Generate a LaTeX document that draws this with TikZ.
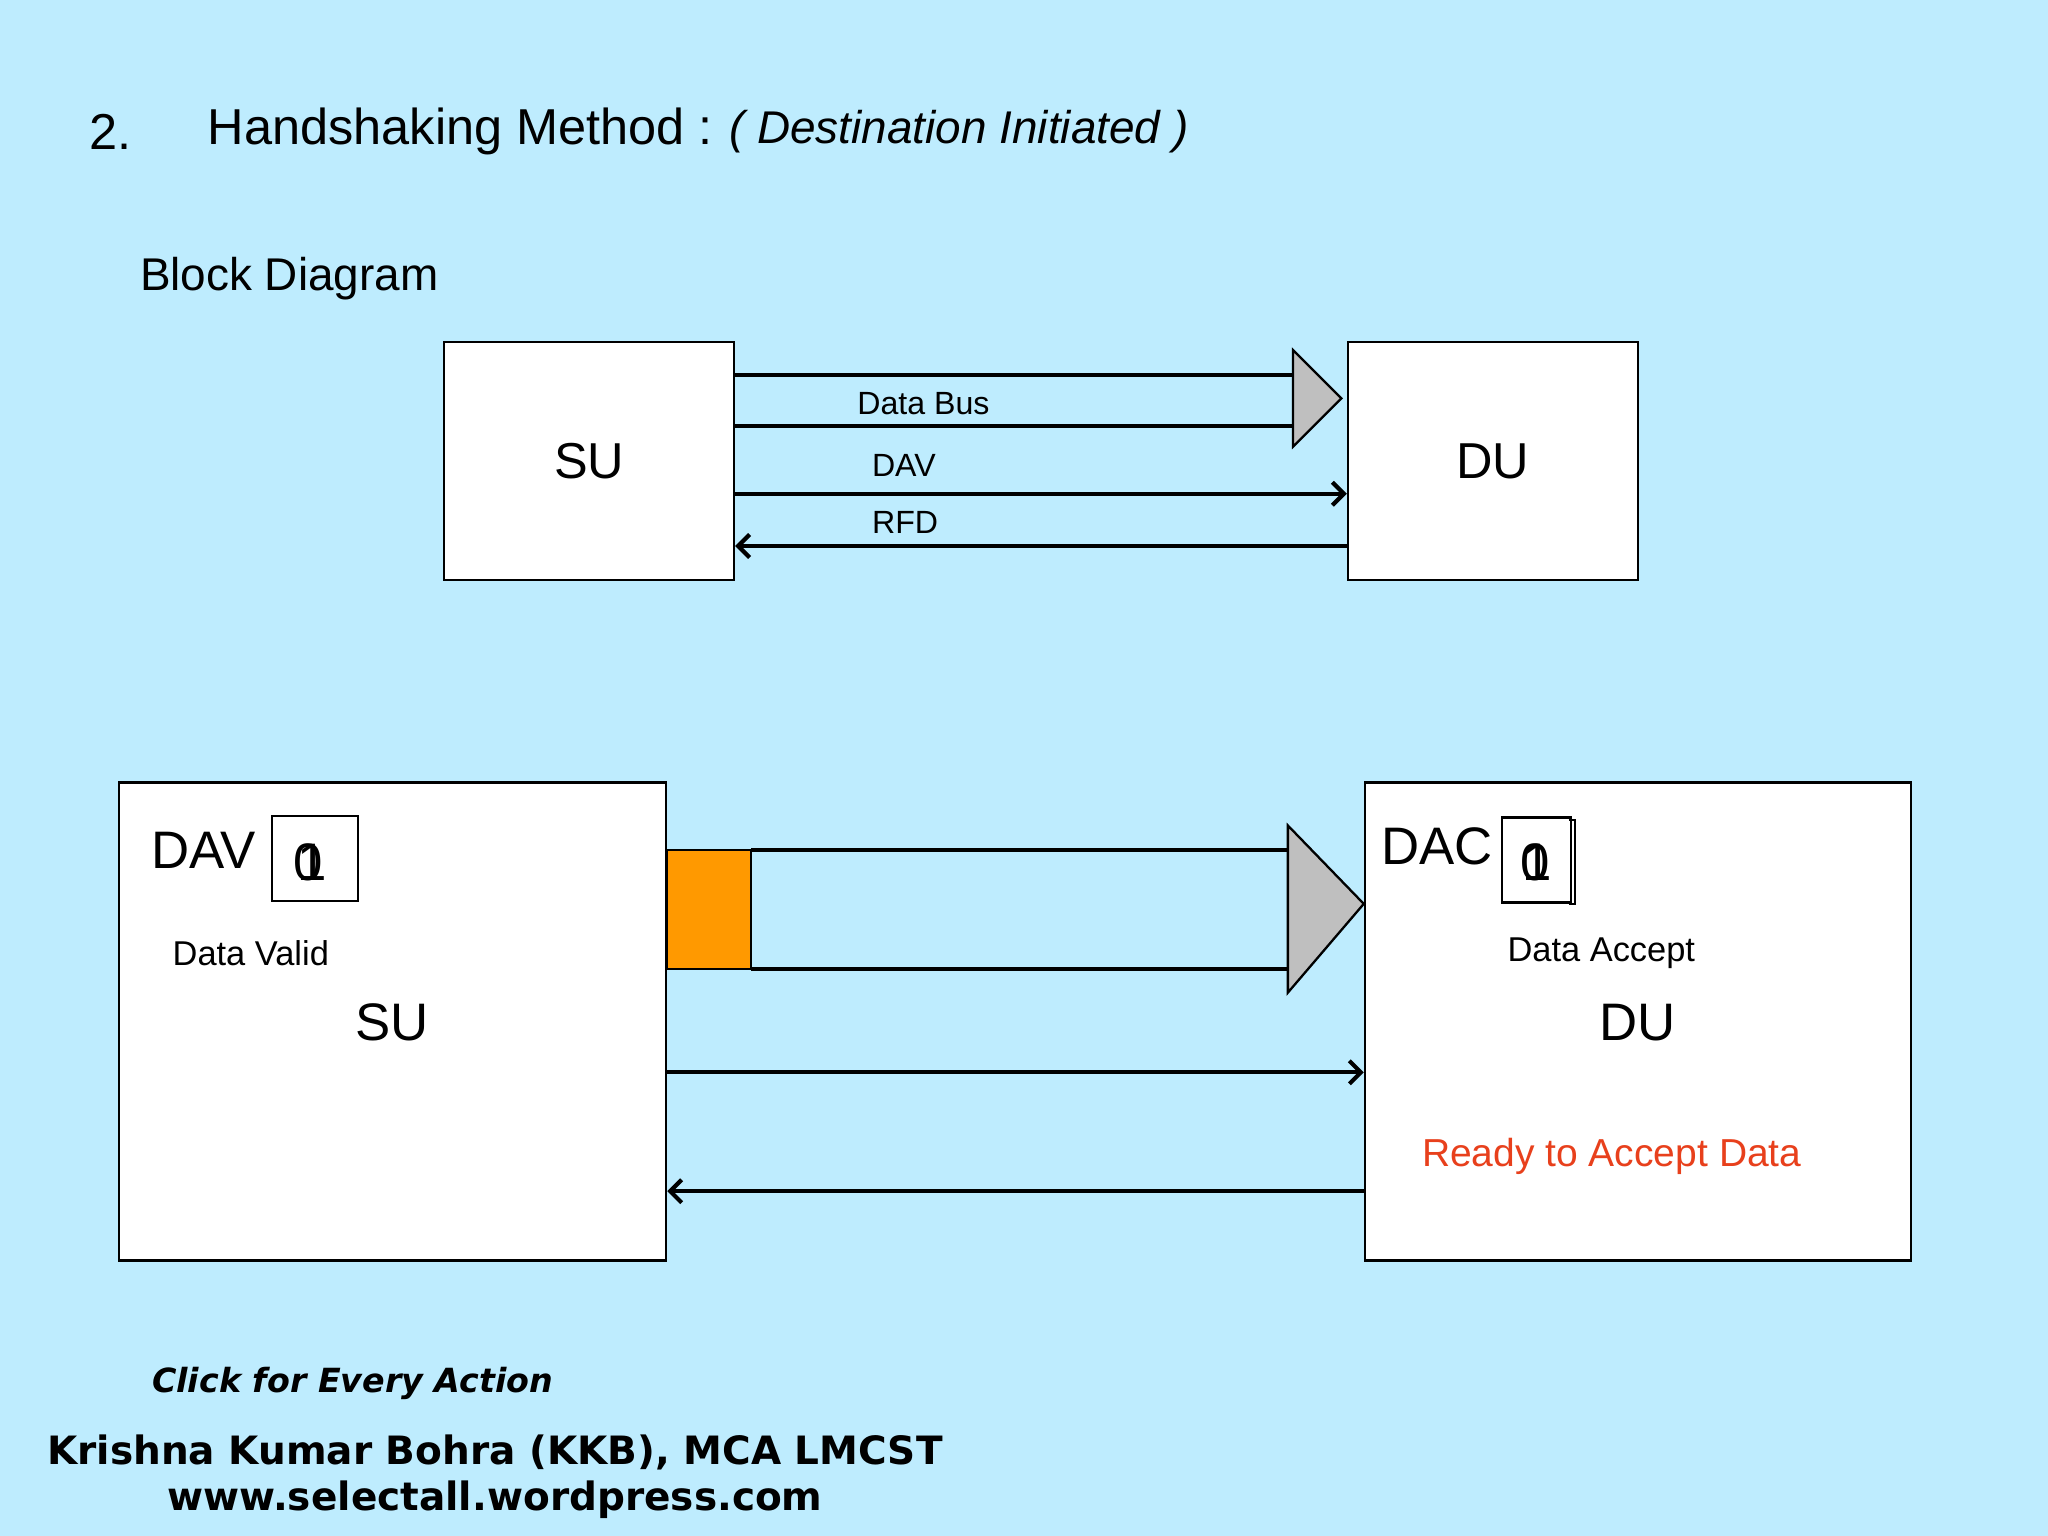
\documentclass[tikz,border=0pt]{standalone}
\usepackage{fontspec}
\setmainfont{Liberation Sans}
\newfontfamily\footfont{DejaVu Sans}
\usepackage{xcolor}
\usetikzlibrary{shapes,arrows,arrows.meta,positioning,calc}
\definecolor{bgblue}{RGB}{190,236,254}
\definecolor{busorange}{RGB}{255,153,0}
\definecolor{readyred}{RGB}{232,64,28}
\begin{document}
\begin{tikzpicture}[x=0.02cm,y=-0.02cm,
  unit/.style={draw,fill=white,line width=1pt,inner sep=0pt},
  sig/.style={line width=1.8pt,-{Straight Barb[length=5pt,width=10pt,line width=1.8pt]}},
  bus/.style={line width=1.8pt},
  tri/.style={draw,fill=gray!50,line width=1pt}]
\fill[bgblue] (0,0) rectangle (1568,1176);
\useasboundingbox (0,0) rectangle (1568,1176);
% heading
\node[anchor=west,font=\fontsize{22}{26}\selectfont] (num) at (62,101) {2.};
\node[anchor=west,font=\fontsize{22}{26}\selectfont] (title) at (153,101) {Handshaking Method :};
\node[anchor=west,font=\fontsize{20}{24}\selectfont\itshape] (sub) at (title.east) {( Destination Initiated )};
\node[anchor=west,font=\fontsize{20}{24}\selectfont] (bd) at (101,213) {Block Diagram};

% block diagram
\node[unit,minimum width=222*0.02cm,minimum height=182*0.02cm,font=\fontsize{22}{26}\selectfont] (su) at (451,353) {SU};
\node[unit,minimum width=222*0.02cm,minimum height=182*0.02cm,font=\fontsize{22}{26}\selectfont] (du) at (1143,353) {DU};
\coordinate (tip) at (1027,305);
\draw[bus] (su.east |- 0,287) -- (990,287);
\draw[bus] (su.east |- 0,326) -- (990,326);
\draw[tri] (990,268) -- (tip) -- (990,342) -- cycle;
\draw[sig] (su.east |- 0,378) -- (du.west |- 0,378);
\draw[sig] (du.west |- 0,418) -- (su.east |- 0,418);
\node[font=\fontsize{14}{16}\selectfont] (bus) at (707,309) {Data Bus};
\node[font=\fontsize{14}{16}\selectfont] (dav) at (692,356) {DAV};
\node[font=\fontsize{14}{16}\selectfont] (rfd) at (693,400) {RFD};

% detailed view
\node[unit,minimum width=419*0.02cm,minimum height=366*0.02cm] (su2) at (300.5,782) {};
\node[unit,minimum width=418*0.02cm,minimum height=366*0.02cm] (du2) at (1254,782) {};
\fill[busorange,draw=black,line width=1pt] (su2.east |- 0,651) rectangle (575,742);
\draw[bus] (575,651) -- (986,651);
\draw[bus] (575,742) -- (986,742);
\draw[tri] (986,632) -- (du2.west |- 0,692) -- (986,760) -- cycle;
\draw[sig] (su2.east |- 0,821) -- (du2.west |- 0,821);
\draw[sig] (du2.west |- 0,912) -- (su2.east |- 0,912);

\node[font=\fontsize{23}{26}\selectfont] (davlbl) at (156,651) {DAV};
\node[draw,line width=1pt,minimum width=66*0.02cm,minimum height=65*0.02cm] (davbit) at (241,657.5) {};
\node[font=\fontsize{23}{26}\selectfont] at (236,660) {0};
\node[font=\fontsize{23}{26}\selectfont] at (239,660) {1};
\node[font=\fontsize{15}{18}\selectfont] (valid) at (192,730) {Data Valid};
\node[font=\fontsize{23}{26}\selectfont] (sulbl) at (300,783) {SU};

\node[font=\fontsize{23}{26}\selectfont] (daclbl) at (1100,648) {DAC};
\node[draw,line width=1pt,minimum width=53*0.02cm,minimum height=65*0.02cm] (dacbit) at (1176.5,658.5) {};
\draw[line width=0.8pt] (1201,628) -- (1206,628) -- (1206,692) -- (1201,692);
\node[font=\fontsize{23}{26}\selectfont] at (1175,660) {0};
\node[font=\fontsize{23}{26}\selectfont] at (1177,660) {1};
\node[font=\fontsize{15}{18}\selectfont] (accept) at (1226,730) {Data Accept};
\node[font=\fontsize{23}{26}\selectfont] (dulbl) at (1254,783) {DU};
\node[font=\fontsize{17}{20}\selectfont,text=readyred] (ready) at (1234,885) {Ready to Accept Data};

% footer
\node[font=\footfont\fontsize{14.5}{18}\selectfont\bfseries\itshape] (click) at (270,1059) {Click for Every Action};
\node[font=\footfont\fontsize{17}{20}\selectfont\bfseries] (author) at (379,1112) {Krishna Kumar Bohra (KKB), MCA LMCST};
\node[font=\footfont\fontsize{17}{20}\selectfont\bfseries] (web) at (379,1148) {www.selectall.wordpress.com};
\end{tikzpicture}
\end{document}
